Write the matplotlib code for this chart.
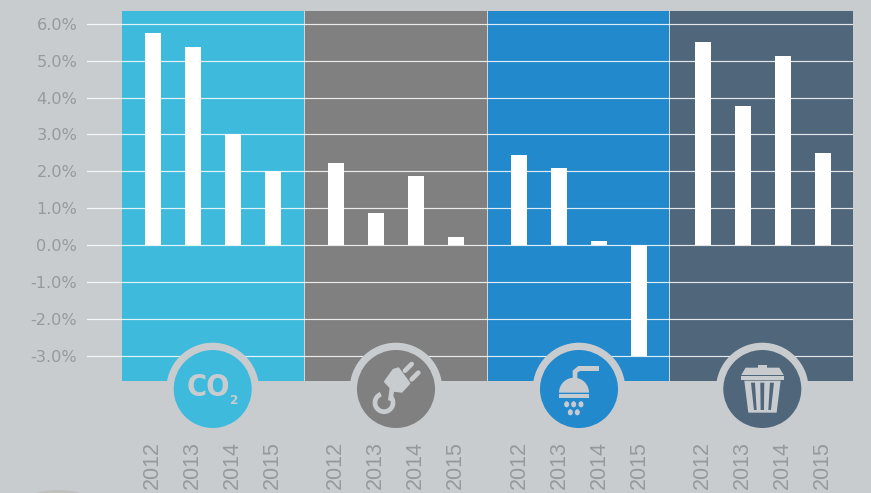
import matplotlib
matplotlib.use('Agg')
import matplotlib.pyplot as plt
from matplotlib.patches import Circle, Ellipse, Polygon, Rectangle, Arc, Wedge

#----------datos
years = ['2012', '2013', '2014', '2015']
co2 = [5.75, 5.37, 3.01, 2.0]
power = [2.22, 0.87, 1.87, 0.22]
water = [2.44, 2.09, 0.11, -3.0]
waste = [5.51, 3.77, 5.13, 2.5]
series = [co2, power, water, waste]
colors = ['#3EBADD', '#7F807F', '#2189CC', '#4F667B']
yticks = [-3, -2, -1, 0, 1, 2, 3, 4, 5, 6]

bg = '#C9CCCF'
gray = '#979A9D'
W, H = 871, 493
group = 4.58   # separacion entre grupos de barras
panel = 4.562  # ancho de cada panel

fig = plt.figure(figsize=(W / 100, H / 100), dpi=100, facecolor=bg)
ax = fig.add_axes([87 / W, 1 - 381 / H, (853 - 87) / W, (381 - 11) / H])
ax.set_facecolor('none')
ax.set_xlim(-1.65, 17.5)
ax.set_ylim((245 - 381) / 36.85, (245 - 11) / 36.85)

#----------paneles, rejilla y barras
for i, vals in enumerate(series):
    right = 17.5 if i == 3 else (i + 1) * panel - 0.775
    ax.axvspan(i * panel - 0.775, right, color=colors[i], lw=0, zorder=1)
    if i > 0:
        ax.axvline(i * panel - 0.775, color='#D5D8DA', lw=0.7, zorder=2)
    ax.bar([i * group + j for j in range(4)], vals, width=0.4, color='white', lw=0, zorder=4)

for v in yticks:
    ax.axhline(v, color='white', lw=0.85, alpha=0.85, zorder=3)

ax.set_yticks(yticks)
ax.set_yticklabels(['%.1f%%' % v for v in yticks], color=gray, fontsize=11.6)
ax.tick_params(axis='y', length=0, pad=7)
ax.set_xticks([])
for s in ax.spines.values():
    s.set_visible(False)

#----------capa de iconos en pixeles
ic = fig.add_axes([0, 0, 1, 1])
ic.set_xlim(0, W)
ic.set_ylim(H, 0)
ic.axis('off')
ic.patch.set_alpha(0)

centers = [212.7, 396, 579, 762.3]
cy = 389
for cx, c in zip(centers, colors):
    ic.add_patch(Wedge((cx, cy), 46.3, 180, 360, color=bg, lw=0))
    ic.add_patch(Circle((cx, cy), 39, color=c, lw=0))

# mancha abajo a la izquierda
ic.add_patch(Ellipse((58, 497), 54, 14, color='#BFC0BC', lw=0))

# CO2
cx = centers[0]
ic.text(cx - 4.7, cy - 1.5, 'CO', color=bg, fontsize=22, fontweight='bold',
        family='DejaVu Sans', stretch='condensed', ha='center', va='center')
ic.text(cx + 21, cy + 11.7, '2', color=bg, fontsize=9.5, fontweight='bold',
        family='DejaVu Sans', stretch='condensed', ha='center', va='center')

# enchufe
cx = centers[1]
ox, oy = cx - 828 / 3, cy - 177 / 3
def P(zx, zy):
    return (ox + zx / 3, oy + zy / 3)
ic.add_patch(Polygon([P(795, 155), P(820, 120), P(835, 115), P(868, 160), P(845, 185), P(820, 182)],
                     facecolor=bg, edgecolor=bg, lw=1.5, joinstyle='round'))
ic.plot(*zip(P(855, 122), P(875, 102)), color=bg, lw=3.4, solid_capstyle='round')
ic.plot(*zip(P(875, 148), P(895, 128)), color=bg, lw=3.4, solid_capstyle='round')
ic.plot(*zip(P(815, 182), P(812, 205)), color=bg, lw=3.4)
ic.add_patch(Arc(P(792, 218), 18, 18, angle=0, theta1=-40, theta2=250, color=bg, lw=3.4))

# ducha
cx = centers[2]
ox, oy = cx - 237 / 3, cy - 177 / 3
ic.add_patch(Rectangle(P(235, 108), 62 / 3, 15 / 3, color=bg, lw=0))
ic.add_patch(Polygon([P(218, 145), P(218, 122), P(235, 108), P(240, 123), P(232, 128), P(232, 145)],
                     color=bg, lw=0))
ic.add_patch(Wedge(P(222, 188), 15, 180, 360, color=bg, lw=0))
ic.add_patch(Rectangle(P(178, 193), 89 / 3, 10 / 3, color=bg, lw=0))
for zx, zy in [(200, 223), (221, 223), (243, 223), (211, 247), (232, 247)]:
    ic.add_patch(Ellipse(P(zx, zy), 5, 6, color=bg, lw=0))
    ic.add_patch(Polygon([P(zx - 6, zy - 2), P(zx, zy - 10), P(zx + 6, zy - 2)], color=bg, lw=0))

# basura
cx = centers[3]
ox, oy = cx - 787 / 3, cy - 177 / 3
dark = colors[3]
ic.add_patch(Rectangle(P(773, 105), 29 / 3, 9 / 3, color=bg, lw=0))
ic.add_patch(Polygon([P(737, 113), P(838, 113), P(851, 135), P(724, 135)], color=bg, lw=0))
ic.add_patch(Rectangle(P(724, 137), 127 / 3, 13 / 3, color=bg, lw=0))
ic.add_patch(Polygon([P(733, 152), P(842, 152), P(830, 248), P(745, 248)], color=bg, lw=0))
for a, b, c, d in [(753, 765, 762, 770), (781, 793, 782, 792), (810, 822, 805, 813)]:
    ic.add_patch(Polygon([P(a, 158), P(b, 158), P(d, 240), P(c, 240)], color=dark, lw=0))

#----------etiquetas de anos
for i in range(4):
    for j, y in enumerate(years):
        px = 153 + i * 183.2 + j * 40
        ic.text(px - 0.5, 465, y, rotation=90, color=gray, fontsize=15.5, family='Liberation Sans',
                ha='center', va='center')

plt.savefig('out.png', dpi=100, facecolor=bg)
